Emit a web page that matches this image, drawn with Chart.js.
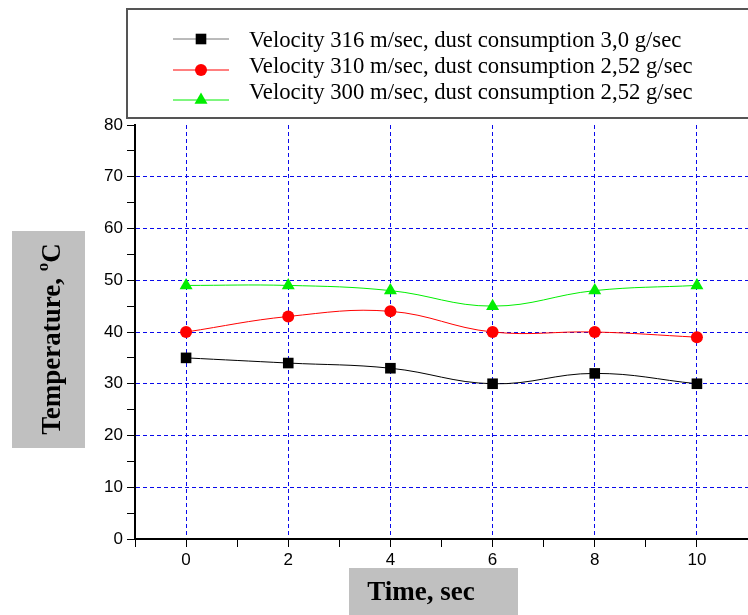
<!DOCTYPE html>
<html>
<head>
<meta charset="utf-8">
<script src="https://cdn.jsdelivr.net/npm/chart.js@4/dist/chart.umd.min.js"></script>
<style>
  html, body { margin: 0; padding: 0; background: #fff; }
  #wrap { width: 748px; height: 615px; position: relative; }
</style>
</head>
<body>
<div id="wrap"><canvas id="tempChart" width="748" height="615"></canvas></div>
<script>
const times = [0, 2, 4, 6, 8, 10];
const v316 = [35, 34, 33, 30, 32, 30];
const v310 = [40, 43, 44, 40, 40, 39];
const v300 = [49, 49, 48, 45, 48, 49];
const seriesLabels = [
  "Velocity 316 m/sec, dust consumption 3,0 g/sec",
  "Velocity 310 m/sec, dust consumption 2,52 g/sec",
  "Velocity 300 m/sec, dust consumption 2,52 g/sec"
];
const xTitle = "Time, sec";
const yTitle = "Temperature, ";

const gridBlue = "rgba(10,10,235,1)";
const clear = "rgba(0,0,0,0)";

function pts(arr) {
  return times.map((t, i) => ({ x: t, y: arr[i] }));
}

// legend + gray axis-title boxes
const extras = {
  id: "extras",
  afterDraw(chart) {
    const ctx = chart.ctx;
    ctx.save();

    // legend frame
    ctx.strokeStyle = "#555";
    ctx.lineWidth = 2;
    ctx.strokeRect(127, 9, 660, 109);

    const markY = [39, 70, 100];
    const textY = [41, 67, 93];
    const sampleColors = ["#777", "#ff0000", "#00ee00"];
    chart.data.datasets.forEach((ds, i) => {
      ctx.strokeStyle = sampleColors[i];
      ctx.lineWidth = 1;
      ctx.beginPath();
      ctx.moveTo(173, markY[i]);
      ctx.lineTo(229, markY[i]);
      ctx.stroke();
      ctx.fillStyle = ds.pointBackgroundColor;
      ctx.strokeStyle = ds.pointBackgroundColor;
      Chart.helpers.drawPoint(ctx, {
        pointStyle: ds.pointStyle, radius: ds.pointRadius, borderWidth: 0, rotation: 0
      }, 201, markY[i]);
      ctx.fillStyle = "#000";
      ctx.font = '22.7px "Liberation Serif"';
      ctx.textAlign = "left";
      ctx.textBaseline = "middle";
      ctx.fillText(ds.label, 249, textY[i]);
    });

    // y title box
    ctx.fillStyle = "#c0c0c0";
    ctx.fillRect(12, 231, 73, 217);
    ctx.translate(51, 339);
    ctx.rotate(-Math.PI / 2);
    const big = 'bold 27px "Liberation Serif"';
    const small = 'bold 17px "Liberation Serif"';
    ctx.font = big;
    const w1 = ctx.measureText(yTitle).width;
    const wC = ctx.measureText("C").width;
    ctx.font = small;
    const wo = ctx.measureText("o").width;
    let x0 = -(w1 + wo + wC) / 2;
    ctx.fillStyle = "#000";
    ctx.textBaseline = "alphabetic";
    ctx.font = big;
    ctx.fillText(yTitle, x0, 9);
    ctx.font = small;
    ctx.fillText("o", x0 + w1, -3);
    ctx.font = big;
    ctx.fillText("C", x0 + w1 + wo, 9);
    ctx.setTransform(1, 0, 0, 1, 0, 0);

    // x title box
    ctx.fillStyle = "#c0c0c0";
    ctx.fillRect(349, 568, 169, 47);
    ctx.fillStyle = "#000";
    ctx.font = 'bold 27px "Liberation Serif"';
    ctx.textAlign = "center";
    ctx.textBaseline = "middle";
    ctx.fillText(xTitle, 421, 593);

    ctx.restore();
  }
};

const ctx = document.getElementById("tempChart").getContext("2d");
new Chart(ctx, {
  type: "line",
  data: {
    datasets: [
      {
        label: seriesLabels[0], data: pts(v316),
        borderColor: "#000", pointBackgroundColor: "#000", pointBorderColor: "#000",
        pointStyle: "rect", pointRadius: 7.5, pointBorderWidth: 0, borderWidth: 1, tension: 0.4
      },
      {
        label: seriesLabels[1], data: pts(v310),
        borderColor: "#ff0000", pointBackgroundColor: "#ff0000", pointBorderColor: "#ff0000",
        pointStyle: "circle", pointRadius: 6, pointBorderWidth: 0, borderWidth: 1, tension: 0.4
      },
      {
        label: seriesLabels[2], data: pts(v300),
        borderColor: "#00ee00", pointBackgroundColor: "#00ee00", pointBorderColor: "#00ee00",
        pointStyle: "triangle", pointRadius: 7.5, pointBorderWidth: 0, borderWidth: 1, tension: 0.4
      }
    ]
  },
  options: {
    responsive: false,
    animation: false,
    layout: { autoPadding: false, padding: { top: 125, left: 0, right: 0, bottom: 0 } },
    plugins: { legend: { display: false }, tooltip: { enabled: false } },
    scales: {
      x: {
        type: "linear", min: -1, max: 11,
        afterFit: (s) => { s.height = 76; s.paddingRight = 0; s.paddingLeft = 0; },
        ticks: {
          stepSize: 1, autoSkip: false, maxRotation: 0, padding: 3,
          color: "#000", font: { family: "Liberation Sans", size: 17 },
          callback: (v) => (v % 2 === 0 && v >= 0 && v <= 10 ? v : "")
        },
        grid: {
          color: (c) => (c.tick && c.tick.value % 2 === 0 && c.tick.value >= 0 && c.tick.value <= 10 ? gridBlue : clear),
          tickColor: "#000", tickLength: 8, tickBorderDash: []
        },
        border: { color: "#000", width: 2, dash: [4, 3] }
      },
      y: {
        min: 0, max: 80,
        afterFit: (s) => { s.width = 135; s.paddingTop = 0; s.paddingBottom = 0; },
        ticks: {
          stepSize: 5, autoSkip: false, padding: 4,
          color: "#000", font: { family: "Liberation Sans", size: 17 },
          callback: (v) => (v % 10 === 0 ? v : "")
        },
        grid: {
          color: (c) => (c.tick && c.tick.value % 10 === 0 && c.tick.value > 0 && c.tick.value < 80 ? gridBlue : clear),
          tickColor: "#000", tickLength: 8, tickBorderDash: []
        },
        border: { color: "#000", width: 2, dash: [4, 3] }
      }
    }
  },
  plugins: [extras]
});
</script>
</body>
</html>
